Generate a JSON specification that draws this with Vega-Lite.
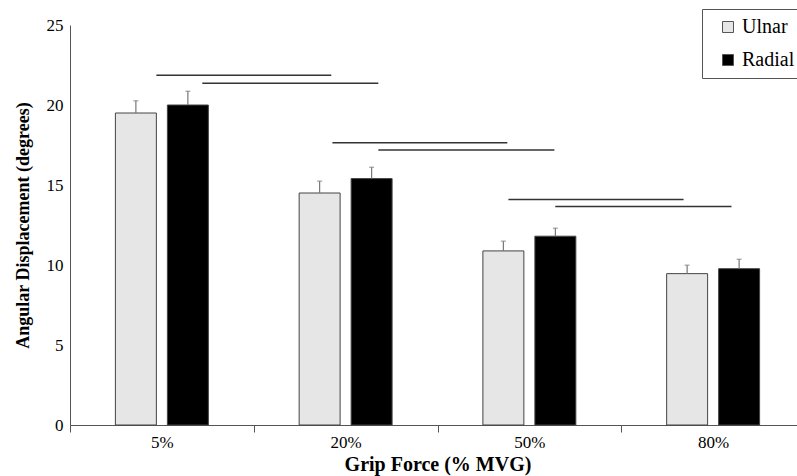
{
  "$schema": "https://vega.github.io/schema/vega-lite/v6.json",
  "width": 727,
  "height": 400,
  "autosize": {"type": "none"},
  "padding": {"left": 70, "top": 25, "right": 0, "bottom": 51},
  "config": {
    "view": {"stroke": null},
    "font": "Liberation Serif, Times New Roman, serif",
    "text": {"font": "Liberation Serif, Times New Roman, serif"},
    "axis": {"labelFont": "Liberation Serif, Times New Roman, serif", "titleFont": "Liberation Serif, Times New Roman, serif", "labelColor": "#000", "titleColor": "#000", "grid": false},
    "legend": {"labelFont": "Liberation Serif, Times New Roman, serif", "titleFont": "Liberation Serif, Times New Roman, serif"}
  },
  "layer": [
    {
      "data": {
        "values": [
          {"grip": "5%", "side": "Ulnar", "mean": 19.5, "upper": 20.26},
          {"grip": "5%", "side": "Radial", "mean": 20.0, "upper": 20.86},
          {"grip": "20%", "side": "Ulnar", "mean": 14.5, "upper": 15.24},
          {"grip": "20%", "side": "Radial", "mean": 15.4, "upper": 16.11},
          {"grip": "50%", "side": "Ulnar", "mean": 10.88, "upper": 11.49},
          {"grip": "50%", "side": "Radial", "mean": 11.8, "upper": 12.3},
          {"grip": "80%", "side": "Ulnar", "mean": 9.46, "upper": 9.99},
          {"grip": "80%", "side": "Radial", "mean": 9.77, "upper": 10.36}
        ]
      },
      "encoding": {
        "x": {
          "field": "grip", "type": "nominal", "sort": ["5%", "20%", "50%", "80%"],
          "title": "Grip Force (% MVG)",
          "scale": {"range": [0, 735], "paddingInner": 0, "paddingOuter": 0},
          "axis": {
            "tickBand": "extent", "labelAngle": 0, "domainColor": "#555", "tickColor": "#555",
            "tickSize": 7, "labelPadding": 2, "labelFontSize": 17, "labelFont": "Liberation Serif, Times New Roman, serif",
            "titleFont": "Liberation Serif, Times New Roman, serif", "titleFontSize": 20, "titleFontWeight": "bold", "titlePadding": 4
          }
        },
        "xOffset": {"field": "side", "type": "nominal", "sort": ["Ulnar", "Radial"], "scale": {"paddingInner": 0.212, "paddingOuter": 0.873}}
      },
      "layer": [
        {
          "mark": {"type": "bar", "stroke": "#444", "strokeWidth": 1},
          "encoding": {
            "y": {
              "field": "mean", "type": "quantitative", "title": "Angular Displacement (degrees)",
              "scale": {"domain": [0, 25], "nice": false},
              "axis": {
                "values": [0, 5, 10, 15, 20, 25], "ticks": false, "tickSize": 0, "domainColor": "#555",
                "labelFont": "Liberation Serif, Times New Roman, serif", "titleFont": "Liberation Serif, Times New Roman, serif",
                "labelFontSize": 17, "labelPadding": 7, "titleFontSize": 18, "titleFontWeight": "bold", "titlePadding": 14
              }
            },
            "color": {
              "field": "side", "type": "nominal", "sort": ["Ulnar", "Radial"],
              "scale": {"domain": ["Ulnar", "Radial"], "range": ["#e6e6e6", "#000000"]},
              "legend": {
                "title": null, "orient": "none", "legendX": 632, "legendY": -16,
                "strokeColor": "#555", "fillColor": "#ffffff", "padding": 8,
                "symbolType": "square", "symbolSize": 121, "symbolStrokeColor": "#555", "symbolStrokeWidth": 1,
                "symbolOffset": 8, "labelFont": "Liberation Serif, Times New Roman, serif", "labelFontSize": 20, "labelOffset": 4,
                "rowPadding": 13, "labelColor": "#000"
              }
            }
          }
        },
        {
          "mark": {"type": "rule", "color": "#777", "strokeWidth": 1.2},
          "encoding": {
            "y": {"field": "mean", "type": "quantitative", "title": "Angular Displacement (degrees)"},
            "y2": {"field": "upper"}
          }
        },
        {
          "mark": {"type": "tick", "color": "#777", "size": 5, "thickness": 1.2},
          "encoding": {
            "y": {"field": "upper", "type": "quantitative", "title": "Angular Displacement (degrees)"}
          }
        }
      ]
    },
    {
      "data": {
        "values": [
          {"x1": 0.470, "x2": 1.422, "y": 21.86},
          {"x1": 0.720, "x2": 1.678, "y": 21.36},
          {"x1": 1.428, "x2": 2.380, "y": 17.64},
          {"x1": 1.678, "x2": 2.636, "y": 17.18},
          {"x1": 2.386, "x2": 3.339, "y": 14.09},
          {"x1": 2.641, "x2": 3.600, "y": 13.66}
        ]
      },
      "mark": {"type": "rule", "color": "#333", "strokeWidth": 1.5},
      "encoding": {
        "x": {"field": "x1", "type": "quantitative", "scale": {"domain": [0, 4], "range": [0, 735]}, "axis": null},
        "x2": {"field": "x2"},
        "y": {"field": "y", "type": "quantitative", "title": "Angular Displacement (degrees)"}
      }
    }
  ],
  "resolve": {"scale": {"x": "independent"}, "axis": {"x": "independent"}}
}
